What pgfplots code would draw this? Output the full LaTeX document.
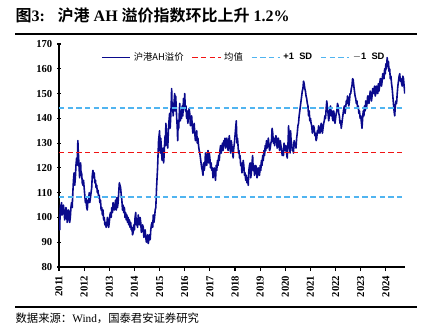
\documentclass[border=0pt]{standalone}
\usepackage{pgfplots}
\pgfplotsset{compat=1.18}
\usepackage{pgfplotstable}
\usepackage{fontspec}
\setmainfont{Liberation Serif}
\newfontfamily\cjk{Noto Sans CJK SC}
\newfontfamily\cjkb{Noto Sans CJK SC Bold}
\newfontfamily\arialb{Liberation Sans Bold}
\definecolor{navy}{RGB}{10,10,140}
\definecolor{lblue}{RGB}{80,180,240}
\definecolor{myred}{RGB}{240,20,20}
\pgfplotstableread{
x y
2011.00 97
2011.015 100
2011.03 95
2011.045 103
2011.06 105
2011.08 101
2011.10 106
2011.125 101
2011.15 102
2011.175 105
2011.20 103
2011.225 99
2011.25 100
2011.275 104
2011.30 103
2011.325 98
2011.35 99
2011.375 103
2011.40 102
2011.425 98
2011.45 100
2011.475 104
2011.50 106
2011.525 104
2011.55 110
2011.575 115
2011.60 118
2011.625 113
2011.65 116
2011.675 121
2011.70 124
2011.725 121
2011.75 131
2011.765 127
2011.78 124
2011.80 120
2011.82 116
2011.84 120
2011.86 122
2011.88 117
2011.90 118
2011.925 114
2011.95 113
2011.975 115
2012.00 112
2012.025 109
2012.05 106
2012.075 108
2012.10 104
2012.125 103
2012.15 107
2012.175 106
2012.20 110
2012.225 106
2012.25 108
2012.275 110
2012.30 112
2012.325 117
2012.35 119
2012.375 116
2012.40 118
2012.425 114
2012.45 115
2012.475 112
2012.50 113
2012.525 110
2012.55 111
2012.575 108
2012.60 109
2012.625 106
2012.65 107
2012.675 103
2012.70 104
2012.725 101
2012.75 103
2012.775 99
2012.80 100
2012.825 97
2012.85 98
2012.875 96
2012.90 97
2012.925 100
2012.95 99
2012.975 96
2013.00 98
2013.025 101
2013.05 102
2013.075 100
2013.10 104
2013.125 102
2013.15 106
2013.175 104
2013.20 103
2013.225 105
2013.25 107
2013.275 103
2013.30 108
2013.325 104
2013.35 106
2013.375 110
2013.40 114
2013.425 113
2013.45 112
2013.475 109
2013.50 107
2013.525 103
2013.55 105
2013.575 102
2013.60 104
2013.625 100
2013.65 102
2013.675 99
2013.70 101
2013.725 98
2013.75 100
2013.775 97
2013.80 99
2013.825 96
2013.85 98
2013.875 95
2013.90 96
2013.925 93
2013.95 94
2013.975 97
2014.00 95
2014.025 100
2014.05 102
2014.075 97
2014.10 99
2014.125 96
2014.15 101
2014.175 98
2014.20 97
2014.225 100
2014.25 98
2014.275 94
2014.30 95
2014.325 97
2014.35 96
2014.375 92
2014.40 93
2014.425 95
2014.45 92
2014.475 90
2014.50 91
2014.525 93
2014.55 89.5
2014.575 91
2014.60 93
2014.625 91
2014.65 95
2014.675 97
2014.70 98
2014.725 96
2014.75 101
2014.775 98
2014.80 100
2014.825 103
2014.85 104
2014.88 112
2014.92 120
2014.96 131
2015.00 135
2015.015 129
2015.03 126
2015.045 132
2015.06 130
2015.08 126
2015.10 123
2015.12 127
2015.14 128
2015.16 122
2015.18 125
2015.20 130
2015.22 133
2015.235 129
2015.25 138
2015.275 134
2015.30 130
2015.325 128
2015.35 135
2015.375 139
2015.40 142
2015.42 136
2015.44 140
2015.46 145
2015.48 152
2015.50 143
2015.52 146
2015.54 141
2015.56 144
2015.58 147
2015.60 150
2015.62 143
2015.64 149
2015.66 145
2015.68 140
2015.70 137
2015.72 131
2015.74 139
2015.76 136
2015.78 141
2015.80 146
2015.825 139
2015.85 142
2015.875 140
2015.90 145
2015.925 141
2015.95 148
2015.975 144
2016.00 150
2016.025 143
2016.05 145
2016.075 140
2016.10 143
2016.125 138
2016.15 141
2016.175 144
2016.20 142
2016.225 137
2016.25 139
2016.275 141
2016.30 137
2016.325 134
2016.35 136
2016.375 138
2016.40 134
2016.425 131
2016.45 133
2016.475 135
2016.50 130
2016.525 132
2016.55 129
2016.575 127
2016.60 126
2016.625 124
2016.65 122
2016.675 120
2016.70 119
2016.725 117
2016.75 122
2016.775 119
2016.80 121
2016.825 126
2016.85 124
2016.875 121
2016.90 125
2016.925 127
2016.95 122
2016.975 126
2017.00 124
2017.025 120
2017.05 122
2017.075 119
2017.10 120
2017.125 116
2017.15 118
2017.175 120
2017.20 117
2017.225 115
2017.25 121
2017.275 119
2017.30 123
2017.325 121
2017.35 125
2017.375 123
2017.40 127
2017.425 129
2017.45 126
2017.475 128
2017.50 130
2017.525 127
2017.55 131
2017.575 129
2017.60 132
2017.625 128
2017.65 130
2017.675 132
2017.70 129
2017.725 127
2017.75 131
2017.775 133
2017.80 128
2017.825 126
2017.85 131
2017.875 129
2017.90 127
2017.925 124
2017.95 128
2017.975 130
2018.00 133
2018.025 136
2018.05 139
2018.065 134
2018.08 130
2018.10 132
2018.12 129
2018.14 126
2018.16 127
2018.18 124
2018.20 125
2018.225 121
2018.25 122
2018.275 118
2018.30 120
2018.325 123
2018.35 121
2018.375 117
2018.40 118
2018.425 115
2018.45 117
2018.475 114
2018.50 116
2018.525 113
2018.55 119
2018.575 121
2018.60 122
2018.625 116
2018.65 118
2018.675 122
2018.70 125
2018.725 119
2018.75 121
2018.775 117
2018.80 118
2018.825 121
2018.85 120
2018.875 116
2018.90 117
2018.925 120
2018.95 119
2018.975 117
2019.00 121
2019.025 119
2019.05 123
2019.075 121
2019.10 125
2019.125 123
2019.15 127
2019.175 125
2019.20 129
2019.225 127
2019.25 131
2019.275 128
2019.30 130
2019.325 132
2019.35 129
2019.375 127
2019.40 128
2019.425 130
2019.45 131
2019.475 136
2019.50 134
2019.525 130
2019.55 132
2019.575 129
2019.60 131
2019.625 133
2019.65 132
2019.675 128
2019.70 130
2019.725 132
2019.75 129
2019.775 127
2019.80 131
2019.825 129
2019.85 128
2019.875 125
2019.90 127
2019.925 125
2019.95 130
2019.975 128
2020.00 127
2020.025 129
2020.05 126
2020.075 124
2020.10 128
2020.115 132
2020.13 137
2020.15 132
2020.17 129
2020.19 126
2020.21 135
2020.23 131
2020.25 130
2020.275 127
2020.30 128
2020.325 126
2020.35 131
2020.375 129
2020.40 130
2020.425 128
2020.45 132
2020.475 134
2020.50 137
2020.525 138
2020.55 141
2020.575 143
2020.60 145
2020.625 147
2020.65 149
2020.675 151
2020.70 152
2020.725 155
2020.75 154
2020.775 152
2020.80 151
2020.825 149
2020.85 148
2020.875 146
2020.90 145
2020.925 141
2020.95 143
2020.975 139
2021.00 140
2021.025 138
2021.05 137
2021.075 134
2021.10 135
2021.125 137
2021.15 136
2021.175 133
2021.20 134
2021.225 131
2021.25 132
2021.275 135
2021.30 134
2021.325 137
2021.35 136
2021.375 134
2021.40 135
2021.425 138
2021.45 137
2021.475 134
2021.50 136
2021.525 138
2021.55 139
2021.575 141
2021.60 140
2021.625 144
2021.65 147
2021.675 144
2021.70 142
2021.725 139
2021.75 141
2021.775 144
2021.80 145
2021.825 141
2021.85 143
2021.875 140
2021.90 139
2021.925 143
2021.95 141
2021.975 138
2022.00 140
2022.025 142
2022.05 143
2022.075 146
2022.10 145
2022.125 142
2022.15 141
2022.175 138
2022.20 139
2022.225 136
2022.25 138
2022.275 140
2022.30 142
2022.325 144
2022.35 145
2022.375 142
2022.40 144
2022.425 147
2022.45 146
2022.475 149
2022.50 148
2022.525 145
2022.55 147
2022.575 150
2022.60 150
2022.625 152
2022.65 153
2022.675 156
2022.70 155.5
2022.725 153
2022.75 151
2022.775 149
2022.80 148
2022.825 146
2022.85 147
2022.875 144
2022.90 145
2022.925 142
2022.95 143
2022.975 140
2023.00 141
2023.03 138
2023.05 136
2023.075 140
2023.10 143
2023.125 141
2023.15 145
2023.175 143
2023.20 147
2023.225 144
2023.25 146
2023.275 149
2023.30 149
2023.325 146
2023.35 148
2023.375 151
2023.40 150
2023.425 147
2023.45 149
2023.475 152
2023.50 152
2023.525 150
2023.55 153
2023.575 149
2023.60 150
2023.625 153
2023.65 152
2023.675 150
2023.70 154
2023.725 151
2023.75 153
2023.775 156
2023.80 156
2023.825 153
2023.85 155
2023.875 158
2023.90 158
2023.925 156
2023.95 160
2023.975 158
2024.00 162
2024.025 160
2024.05 164.5
2024.075 161
2024.10 163
2024.125 159
2024.15 160
2024.175 156
2024.20 157
2024.225 154
2024.25 152
2024.275 149
2024.30 146
2024.325 143
2024.35 141
2024.375 145
2024.40 147
2024.425 146
2024.45 150
2024.475 153
2024.50 155
2024.525 157
2024.55 158
2024.575 155
2024.60 156
2024.625 154
2024.65 153
2024.675 157
2024.70 156
2024.725 153
2024.75 150
}\ahdata
\begin{document}
\begin{tikzpicture}
\path[use as bounding box] (0,0) rectangle (317.25pt,251.25pt);
\node[anchor=west,inner sep=0pt] at (11.5pt,239.5pt) {\fontsize{12}{14}\selectfont{\cjkb 图}\textbf{3:}\hspace{0.8em}{\cjkb 沪港} \textbf{AH} {\cjkb 溢价指数环比上升} \textbf{1.2\%}};
\draw[line width=0.8pt] (11.25pt,225.75pt) -- (312.75pt,225.75pt);
\draw[line width=0.8pt] (11.25pt,21pt) -- (312.75pt,21pt);
\node[anchor=west,inner sep=0pt] at (11.5pt,12.5pt) {\fontsize{8.5}{10}\selectfont{\cjk 数据来源：}Wind{\cjk ，国泰君安证券研究}};
\begin{axis}[
  at={(44.25pt,51pt)}, anchor=south west,
  scale only axis, width=259.5pt, height=167.25pt,
  xmin=2011, xmax=2024.76, ymin=80, ymax=170,
  axis x line*=bottom, axis y line*=left,
  axis line style={line width=1pt, -},
  xtick={2011,...,2024}, ytick={80,90,...,170},
  xtick align=outside, ytick align=center,
  major tick length=3pt,
  tick style={line width=0.8pt, black},
  xticklabel style={rotate=90, anchor=east, /pgf/number format/1000 sep={}},
  ticklabel style={font=\bfseries\fontsize{8}{9}\selectfont},
  /pgf/number format/assume math mode=true,
  legend style={at={(0.535,0.94)}, anchor=center, draw=none, fill=none,
    legend columns=4, font=\fontsize{7}{8}\selectfont,
    /tikz/every even column/.append style={column sep=4pt}},
  legend image code/.code={\draw[#1] (0cm,0cm) -- (0.75cm,0cm);},
]
\addplot[navy, line width=1.2pt, line join=round] table[x=x,y=y] {\ahdata};
\addlegendentry{\cjk 沪港AH溢价}
\addplot[myred, line width=1.1pt, dash pattern=on 4pt off 2.5pt] coordinates {(2011,126.3) (2024.72,126.3)};
\addlegendentry{\cjk 均值}
\addplot[lblue, line width=1.1pt, dash pattern=on 4pt off 2.5pt] coordinates {(2011,144.2) (2024.72,144.2)};
\addlegendentry{\arialb +1\ \ SD}
\addplot[lblue, line width=1.1pt, dash pattern=on 4pt off 2.5pt] coordinates {(2011,108.3) (2024.72,108.3)};
\addlegendentry{\arialb $-$1\ \ SD}
\end{axis}
\end{tikzpicture}
\end{document}
